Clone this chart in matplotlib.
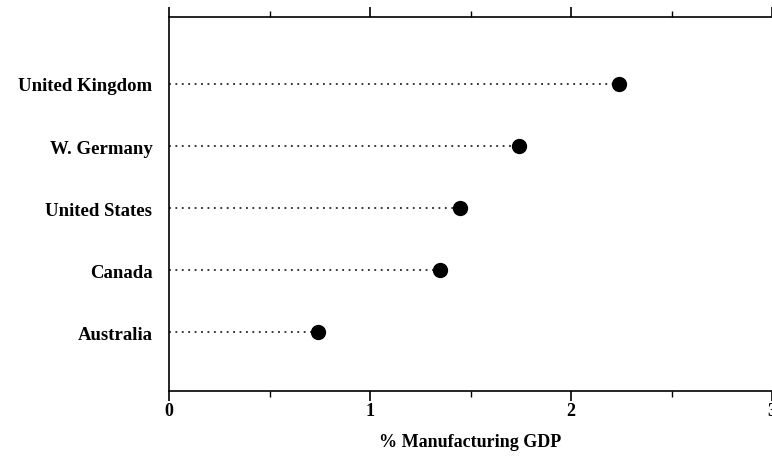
import matplotlib
matplotlib.use("Agg")
import matplotlib.pyplot as plt
from matplotlib.ticker import MultipleLocator

countries = ["Australia", "Canada", "United States", "W. Germany", "United Kingdom"]
values = [0.74, 1.35, 1.45, 1.74, 2.24]
xticks = [0, 1, 2, 3]
xlabel = "% Manufacturing GDP"

plt.rcParams['font.family'] = ['Liberation Serif', 'DejaVu Serif']

fig = plt.figure(figsize=(7.72, 4.6), dpi=100)
ax = fig.add_axes([169/772, 68/460, 1 - 169/772, (392-18)/460])

ypos = list(range(1, len(countries) + 1))
for y, v in zip(ypos, values):
    ax.plot([0, v], [y, y], linestyle=(0, (1.2, 3)), color='black', linewidth=1.1)
ax.plot(values, ypos, 'o', color='black', markersize=10)

ax.set_xlim(0, 3)
ax.set_ylim(0.05, 6.08)
ax.set_yticks(ypos)
ax.set_yticklabels(countries, fontsize=13.5, fontweight='bold')
ax.set_xticks(xticks)
ax.set_xticklabels([str(t) for t in xticks], fontsize=13, fontweight='bold')
ax.xaxis.set_minor_locator(MultipleLocator(0.5))
ax.tick_params(axis='y', length=0, pad=12)
ax.tick_params(axis='x', which='major', direction='out', length=7, width=1.2,
               top=True, bottom=True, pad=1)
ax.tick_params(axis='x', which='minor', direction='out', length=4, width=1,
               top=True, bottom=True)
ax.spines['right'].set_visible(False)
for s in ['left', 'top', 'bottom']:
    ax.spines[s].set_linewidth(1.2)
ax.set_xlabel(xlabel, fontsize=13, fontweight='bold', labelpad=10)

fig.savefig("out.png", dpi=100)
